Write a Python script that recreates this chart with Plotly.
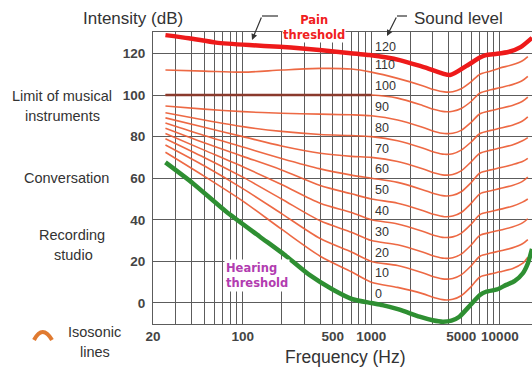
import math
import plotly.graph_objects as go

# ---------------- data ----------------
FREQ = [25, 50, 100, 200, 400, 700, 1000, 1600, 2500, 3100, 3700, 4300, 5000, 6000,
        7000, 8500, 10000, 12500, 15000, 16500]

PHON_10 = [72.5, 61, 49, 35.5, 22.5, 15, 10, 7.5, 4.5, 2.5, 1.5, 1.8, 3.5, 8, 12.5, 14, 15, 16.5, 19, 22]
PHON_20 = [76, 66, 55, 43, 31, 24.5, 20, 18, 14.5, 12.5, 11.5, 11.8, 13.5, 18, 22.5, 24, 25, 26.5, 28.5, 30.5]
PHON_30 = [79, 70, 60.5, 50, 39.5, 34, 30, 28, 24.5, 22.5, 21.5, 21.8, 23.5, 28, 32.5, 34, 35, 36.5, 38.5, 40.5]
PHON_40 = [81.5, 73.5, 65.5, 57, 48, 43.5, 40, 38, 34.5, 32.5, 31.5, 31.8, 33.5, 38, 42.5, 44, 45, 46.5, 48.5, 50]
PHON_50 = [84, 77, 70.5, 64, 56.5, 52.5, 50, 48, 44.5, 42.5, 41.5, 41.8, 43.5, 48, 52.5, 54, 55, 56.5, 58.5, 60.5]
PHON_60 = [86.5, 80.5, 75, 69.5, 64.5, 61.5, 60, 58, 54.5, 52.5, 51.5, 51.8, 53.5, 58, 62.5, 64, 65, 66.5, 68, 69.5]
PHON_70 = [89, 84.5, 80, 75.5, 72, 70.5, 70, 68, 64.5, 62.5, 61.5, 61.8, 63.5, 68, 72, 73.5, 74.5, 76, 78, 79.5]
PHON_80 = [91.5, 88, 84.8, 82.5, 81, 80.5, 80, 78, 74.5, 72.5, 71.5, 71.8, 73.5, 77.5, 81.5, 83, 84, 85.5, 87.5, 89.5]
PHON_90 = [94.7, 93.2, 92, 91.2, 90.8, 90.5, 90, 88, 84.5, 82.5, 81.5, 81.6, 83, 87, 91, 92.5, 93.5, 95, 97, 99]
PHON_100 = [100, 100, 100, 100, 100, 100, 100, 98.5, 95, 93, 92, 92.2, 93.5, 97, 101, 102.5, 103.5, 105, 107, 109]
PHON_110 = [112, 111.5, 111, 112, 112.8, 112.5, 111, 108, 104.5, 102.5, 101.5, 101.6, 103, 106.5, 110, 111.5, 113, 114.5, 116.5, 118.5]

ISOSONIC = [PHON_10, PHON_20, PHON_30, PHON_40, PHON_50, PHON_60,
            PHON_70, PHON_80, PHON_90, PHON_100, PHON_110]

PAIN_FREQ = [25, 38, 62, 112, 193, 290, 533, 965, 1660, 2600, 4100, 5500,
             7000, 7800, 9500, 11800, 14500, 17800]
PAIN_DB = [128.8, 127.3, 125.2, 124, 123.2, 122.4, 120.8, 119.2, 116.8, 113.3,
           109.6, 114, 118, 119.2, 119.8, 120.8, 123, 127.5]

HEAR_FREQ = [25, 41, 74, 135, 218, 330, 500, 715, 1000, 1220, 1660, 2370, 3000,
             3600, 4200, 4840, 5800, 7000, 7800, 9500, 11200, 13000, 15100, 16500, 17800]
HEAR_DB = [67.6, 57.5, 44, 32, 22.5, 13.5, 6.5, 1.8, 0, -1, -3.2, -6.6, -8.3,
           -9, -8.5, -6.6, -1.5, 3.8, 5.4, 6.5, 8.7, 10.5, 14.3, 19, 26]

LEVEL_LABELS = ["120", "110", "100", "90", "80", "70", "60", "50", "40", "30", "20", "10", "0"]
LEVEL_VALUES = [120, 110, 100, 90, 80, 70, 60, 50, 40, 30, 20, 10, 0]

X_TICKS = [20, 100, 500, 1000, 5000, 10000]
X_TICK_TEXT = ["20", "100", "500", "1000", "5000", "10000"]
Y_TICKS = [0, 20, 40, 60, 80, 100, 120]
GRID_FREQS = [20, 30, 40, 50, 60, 70, 80, 90,
              100, 200, 300, 400, 500, 600, 700, 800, 900,
              1000, 2000, 3000, 4000, 5000, 6000, 7000, 8000, 9000, 10000]

# ---------------- geometry helpers (pixel -> paper) ----------------
W, H = 532, 368
PL, PR, PT, PB = 153, 532, 32, 324


def px(x):
    return (x - PL) / (PR - PL)


def py(y):
    return (PB - y) / (PB - PT)


fig = go.Figure()

for vals in ISOSONIC:
    fig.add_trace(go.Scatter(
        x=FREQ, y=vals, mode="lines",
        line=dict(color="rgba(236,92,52,0.92)", width=1.6, shape="spline", smoothing=0.8),
        hoverinfo="skip", showlegend=False))

# flat low-frequency part of the 100 phon curve appears dark brown in the picture
fig.add_trace(go.Scatter(
    x=FREQ[:7], y=PHON_100[:7], mode="lines",
    line=dict(color="#8a3a2c", width=2.6),
    hoverinfo="skip", showlegend=False))

fig.add_trace(go.Scatter(
    x=PAIN_FREQ, y=PAIN_DB, mode="lines",
    line=dict(color="#ee1a1a", width=4.5, shape="spline", smoothing=0.6),
    hoverinfo="skip", showlegend=False))

fig.add_trace(go.Scatter(
    x=HEAR_FREQ, y=HEAR_DB, mode="lines",
    line=dict(color="#2e8f32", width=4.5, shape="spline", smoothing=0.6),
    hoverinfo="skip", showlegend=False))

GRID = "#5c5c5c"
tickfont = dict(family="Liberation Sans, Arial, sans-serif", size=13.5, color="#444444")

fig.update_layout(
    width=W, height=H,
    margin=dict(l=PL, r=W - PR, t=PT, b=H - PB),
    paper_bgcolor="white", plot_bgcolor="white",
    font=dict(family="Liberation Sans, Arial, sans-serif", color="#333333"),
    xaxis=dict(
        type="log", range=[math.log10(20), 4.25],
        tickvals=X_TICKS, ticktext=["<b>%s</b>" % t for t in X_TICK_TEXT],
        tickfont=tickfont, ticks="", showgrid=True, gridcolor=GRID, gridwidth=1,
        minor=dict(tickvals=GRID_FREQS, showgrid=True, gridcolor=GRID, gridwidth=1, ticks=""),
        showline=True, linecolor=GRID, linewidth=1, mirror=True, zeroline=False,
        fixedrange=True,
    ),
    yaxis=dict(
        range=[-10.1, 130.3], tickvals=Y_TICKS,
        ticktext=["<b>%d</b>" % v for v in Y_TICKS],
        tickfont=tickfont, ticks="", showgrid=True, gridcolor=GRID, gridwidth=1,
        showline=True, linecolor=GRID, linewidth=1, zeroline=False,
        ticklabelstandoff=4, fixedrange=True,
    ),
)

ann = []


def text(x, y, s, size=14, color="#333333", xanchor="center", **kw):
    ann.append(dict(xref="paper", yref="paper", x=px(x), y=py(y), text=s,
                    showarrow=False, xanchor=xanchor, yanchor="middle",
                    font=dict(size=size, color=color,
                              family="Liberation Sans, Arial, sans-serif"), **kw))


text(133, 18, "Intensity (dB)", size=17)
text(458, 19, "Sound level", size=17)
text(345, 357, "Frequency (Hz)", size=17.5)
text(62, 96, "Limit of musical", size=14.5)
text(62, 116, "instruments", size=14.5)
text(66, 178, "Conversation", size=14.5)
text(72, 235, "Recording", size=14.5)
text(73, 255, "studio", size=14.5)
text(94, 332, "Isosonic", size=14.5)
text(95, 352, "lines", size=14.5)

bold = "DejaVu Sans, Verdana, sans-serif"
ann.append(dict(xref="paper", yref="paper", x=px(314), y=py(28),
                text="<b>Pain<br>threshold</b>", showarrow=False, align="center",
                xanchor="center", yanchor="middle", bgcolor="white", borderpad=0,
                font=dict(size=11.5, color="#f02020", family=bold)))
ann.append(dict(xref="paper", yref="paper", x=px(224), y=py(275),
                text="<b>Hearing<br>threshold</b>", showarrow=False, align="left",
                xanchor="left", yanchor="middle", bgcolor="white", borderpad=1,
                font=dict(size=11.5, color="#b23cb0", family=bold)))

# sound-level labels next to the 1 kHz line
for lab, v in zip(LEVEL_LABELS, LEVEL_VALUES):
    ann.append(dict(xref="x", yref="y", x=3, y=v + (3 if v == 120 else 4.2), text=lab,
                    showarrow=False, xanchor="left", yanchor="middle", xshift=2,
                    font=dict(size=12.5, color="#333333",
                              family="Liberation Sans, Arial, sans-serif")))

# leader arrows
ann.append(dict(xref="paper", yref="paper", x=px(387), y=py(36), ax=10, ay=-20,
                text="", showarrow=True, arrowhead=2, arrowsize=1, arrowwidth=1.2,
                arrowcolor="#333333"))
ann.append(dict(xref="paper", yref="paper", x=px(252), y=py(40), ax=10, ay=-24,
                text="", showarrow=True, arrowhead=2, arrowsize=1, arrowwidth=1.2,
                arrowcolor="#333333"))

shapes = [
    dict(type="line", xref="paper", yref="paper", x0=px(397), y0=py(16), x1=px(407), y1=py(16),
         line=dict(color="#333333", width=1.2)),
    dict(type="line", xref="paper", yref="paper", x0=px(262), y0=py(16), x1=px(278), y1=py(16),
         line=dict(color="#333333", width=1.2)),
    dict(type="path", xref="paper", yref="paper",
         path="M %f,%f Q %f,%f %f,%f" % (px(34), py(340), px(42.5), py(324), px(52), py(340)),
         line=dict(color="#e07a30", width=4)),
]

fig.update_layout(annotations=ann, shapes=shapes)
fig.write_html("out.html", config={"displayModeBar": False},
               post_script="document.body.style.margin='0';document.body.style.padding='0';"
                           "document.body.style.overflow='hidden';")
